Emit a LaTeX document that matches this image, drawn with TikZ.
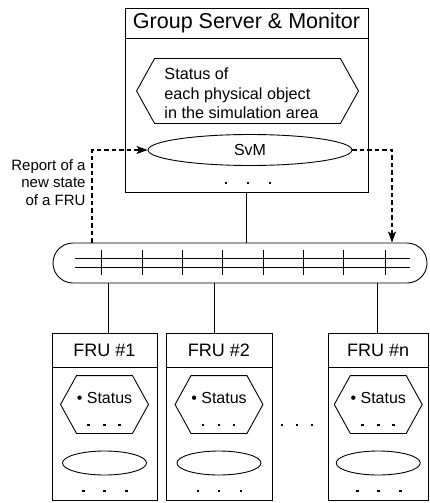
\documentclass[tikz,border=0pt]{standalone}
\usepackage{fontspec}
\setmainfont{Liberation Sans}
\usetikzlibrary{arrows.meta,calc,shapes.geometric}
\tikzset{
  box/.style={draw, rectangle, inner sep=0pt},
  ell/.style={draw, ellipse, inner sep=0pt},
  sq/.style={fill, rectangle, minimum size=2.8pt, inner sep=0pt},
  hexarea/.style={inner sep=0pt},
  dashline/.style={line width=1.2pt, dash pattern=on 4.5pt off 3pt},
  tip/.style={-{Stealth[length=11pt,width=8pt,inset=2.5pt]}},
}
\newcommand\hexdraw[2]{% #1 node name, #2 point depth
  \draw (#1.north west) -- (#1.north east) -- ($(#1.east)+(#2,0)$) -- (#1.south east) -- (#1.south west) -- ($(#1.west)+(-#2,0)$) -- cycle;}
\newcommand\frubox[4]{% #1 name, #2 left, #3 width, #4 label
  \node[box, minimum width=#3 pt, minimum height=34pt, font=\fontsize{18}{20}\selectfont] (#1head) at ({#2+#3/2},350) {#4};
  \node[box, minimum width=#3 pt, minimum height=133pt] (#1body) at ({#2+#3/2},433.5) {};
  \node[hexarea, minimum width=55pt, minimum height=57pt] (#1hex) at ({#2+#3/2},404.5) {};
  \hexdraw{#1hex}{16}
  \node[font=\fontsize{16}{18}\selectfont, inner sep=0pt] (#1st) at ({#2+#3/2},398) {\textbullet\ Status};
  \node[sq] (#1ha) at ({#2+#3/2-16},425) {};
  \node[sq] (#1hb) at ({#2+#3/2},425) {};
  \node[sq] (#1hc) at ({#2+#3/2+15},425) {};
  \node[ell, minimum width=84pt, minimum height=24pt] (#1ell) at ({#2+#3/2},463) {};
  \node[sq] (#1ba) at ({#2+#3/2-21},491) {};
  \node[sq] (#1bb) at ({#2+#3/2},491) {};
  \node[sq] (#1bc) at ({#2+#3/2+22},491) {};
}
\begin{document}
\begin{tikzpicture}[x=1pt,y=-1pt,line width=0.9pt]
\useasboundingbox (0,0) rectangle (430,503);

% Group server & monitor
\node[box, minimum width=243pt, minimum height=30pt, font=\fontsize{21.5}{24}\selectfont] (gtitle) at (246.5,23) {Group Server \& Monitor};
\node[box, minimum width=243pt, minimum height=154pt] (gbody) at (246.5,115) {};
\node[hexarea, minimum width=185pt, minimum height=64pt] (shex) at (247.5,91) {};
\hexdraw{shex}{18}
\node[anchor=west, inner sep=0pt, font=\fontsize{16.2}{20}\selectfont] (stext) at (164,95) {\begin{tabular}{@{}l@{}}Status of\\each physical object\\in the simulation area\end{tabular}};
\node[ell, minimum width=204pt, minimum height=31pt, font=\fontsize{16}{18}\selectfont] (svm) at (250,150) {\raisebox{-2pt}{SvM}};
\node[sq] (gd1) at (226,183) {};
\node[sq] (gd2) at (248,183) {};
\node[sq] (gd3) at (270,183) {};

% bus
\node[draw, rectangle, rounded corners=20pt, minimum width=374pt, minimum height=40pt, inner sep=0pt] (bus) at (240,263) {};
\coordinate (bl1) at (75,258);
\coordinate (br1) at (410,258);
\coordinate (bl2) at (75,267);
\coordinate (br2) at (410,267);
\draw (bl1) -- (br1);
\draw (bl2) -- (br2);
\foreach \t in {101,142,182,222,263,303,343,385} {
  \coordinate (tt\t) at (\t,250);
  \coordinate (tb\t) at (\t,275);
  \draw (tt\t) -- (tb\t);
}

% connector server - bus
\draw (gbody.south) -- (gbody.south |- bus.north);

% dashed report arrows
\coordinate (lx) at (92,0);
\coordinate (rx) at (392,0);
\draw[dashline, tip] (bus.north -| lx) |- (svm.west);
\draw[dashline, tip] (svm.east) -| (bus.north -| rx);
\node[anchor=east, inner sep=0pt, font=\fontsize{15}{17.5}\selectfont] (rep) at (86,184) {\begin{tabular}{@{}r@{}}Report of a\\new state\\of a FRU\end{tabular}};

% FRU boxes
\frubox{fa}{52}{105}{FRU \#1}
\frubox{fb}{166}{106}{FRU \#2}
\frubox{fn}{328}{100.5}{FRU \#n}

\coordinate (c1) at (108,0);
\coordinate (c2) at (214,0);
\coordinate (cn) at (377,0);
\draw (bus.south -| c1) -- (fahead.north -| c1);
\draw (bus.south -| c2) -- (fbhead.north -| c2);
\draw (bus.south -| cn) -- (fnhead.north -| cn);

\node[sq] (m1) at (282,425) {};
\node[sq] (m2) at (297,425) {};
\node[sq] (m3) at (312,425) {};
\end{tikzpicture}
\end{document}
